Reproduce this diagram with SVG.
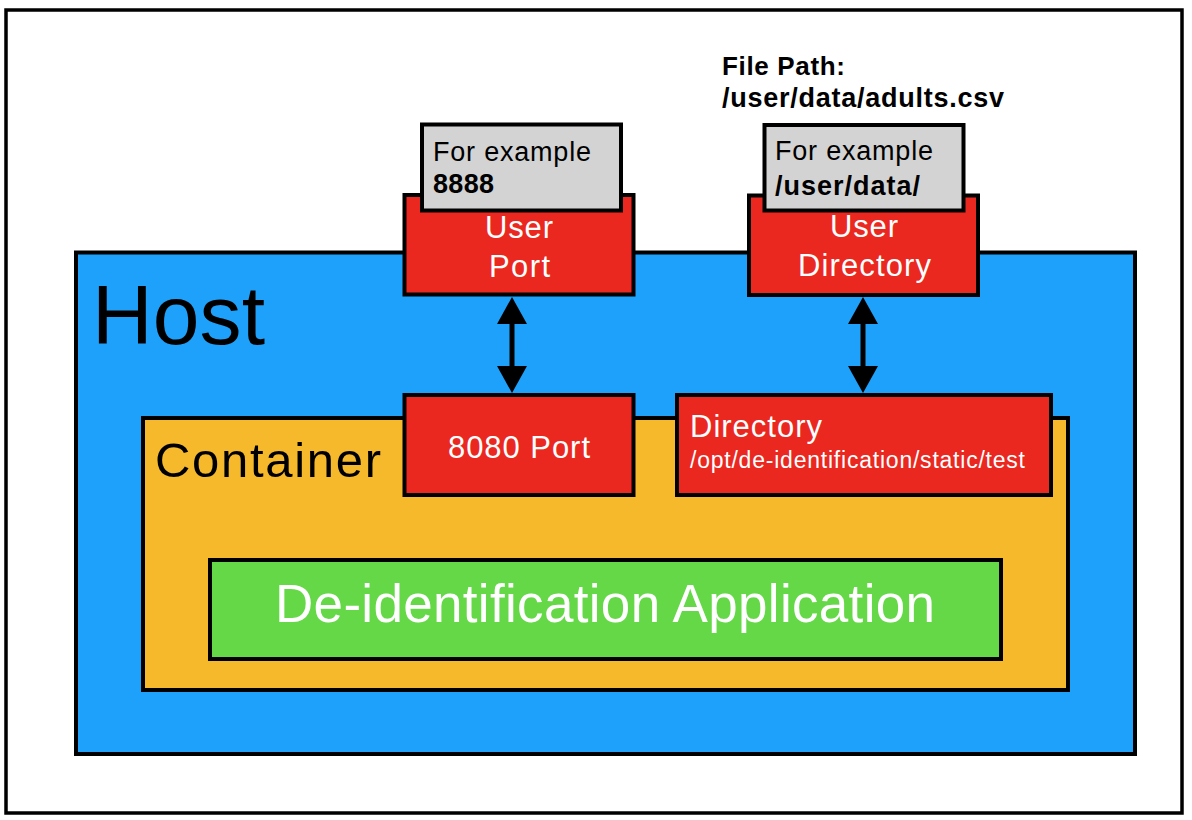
<svg xmlns="http://www.w3.org/2000/svg" width="1192" height="820" viewBox="0 0 1192 820">
<style>
text{font-family:"Liberation Sans",Arial,sans-serif}
.box{stroke:#000;stroke-width:4}
.host{fill:#1EA1FA}
.cont{fill:#F6B92B}
.app{fill:#64D846}
.red{fill:#EA2820}
.gray{fill:#D3D3D3}
.w{fill:#fff}
.k{fill:#000}
.conn{stroke:#000;stroke-width:5;fill:none}
</style>
<defs>
<marker id="ah" markerUnits="userSpaceOnUse" markerWidth="27" markerHeight="30" refX="1" refY="15" orient="auto-start-reverse" viewBox="0 0 27 30">
<path d="M0,0 L27,15 L0,30 z" fill="#000"/>
</marker>
</defs>
<rect x="6" y="10" width="1176" height="803" fill="#fff" stroke="#000" stroke-width="3.5"/>
<g id="host">
<rect class="box host" x="76" y="252.5" width="1059" height="501.5"/>
<text class="k" x="92" y="344" font-size="84" textLength="173">Host</text>
</g>
<g id="container">
<rect class="box cont" x="143" y="418" width="925" height="272"/>
<text class="k" x="155" y="477" font-size="49" textLength="226">Container</text>
</g>
<g id="app">
<rect class="box app" x="210" y="560" width="791" height="99"/>
<text class="w" x="275" y="622" font-size="53" textLength="660">De-identification Application</text>
</g>
<g id="port8080">
<rect class="box red" x="404.5" y="395" width="229" height="100"/>
<text class="w" x="448" y="458" font-size="31" textLength="142">8080 Port</text>
</g>
<g id="directory">
<rect class="box red" x="677" y="395" width="374" height="100"/>
<text class="w" x="690" y="437" font-size="31" textLength="132">Directory</text>
<text class="w" x="690" y="468" font-size="23" textLength="335">/opt/de-identification/static/test</text>
</g>
<g id="userPort">
<rect class="box red" x="404.5" y="195" width="229" height="99.5"/>
<text class="w" x="485" y="238" font-size="31" textLength="68">User</text>
<text class="w" x="489" y="277" font-size="31" textLength="61">Port</text>
</g>
<g id="userDirectory">
<rect class="box red" x="749" y="195.5" width="229" height="99.5"/>
<text class="w" x="830" y="237" font-size="31" textLength="68">User</text>
<text class="w" x="798" y="276" font-size="31" textLength="133">Directory</text>
</g>
<g id="portExample">
<rect class="box gray" x="422" y="124.5" width="199" height="86"/>
<text class="k" x="433" y="161" font-size="27" textLength="158">For example</text>
<text class="k" x="433" y="193" font-size="27" font-weight="bold" textLength="61">8888</text>
</g>
<g id="dirExample">
<rect class="box gray" x="764.5" y="125" width="199" height="85.5"/>
<text class="k" x="775" y="160" font-size="27" textLength="158">For example</text>
<text class="k" x="775" y="195" font-size="27" font-weight="bold" textLength="145">/user/data/</text>
</g>
<g id="filePath">
<text class="k" x="722" y="75" font-size="26" font-weight="bold" textLength="123">File Path:</text>
<text class="k" x="722" y="107" font-size="27" font-weight="bold" textLength="282">/user/data/adults.csv</text>
</g>
<g id="connectors">
<line class="conn" x1="512" y1="323" x2="512" y2="367" marker-start="url(#ah)" marker-end="url(#ah)"/>
<line class="conn" x1="863" y1="323" x2="863" y2="367" marker-start="url(#ah)" marker-end="url(#ah)"/>
</g>
</svg>
